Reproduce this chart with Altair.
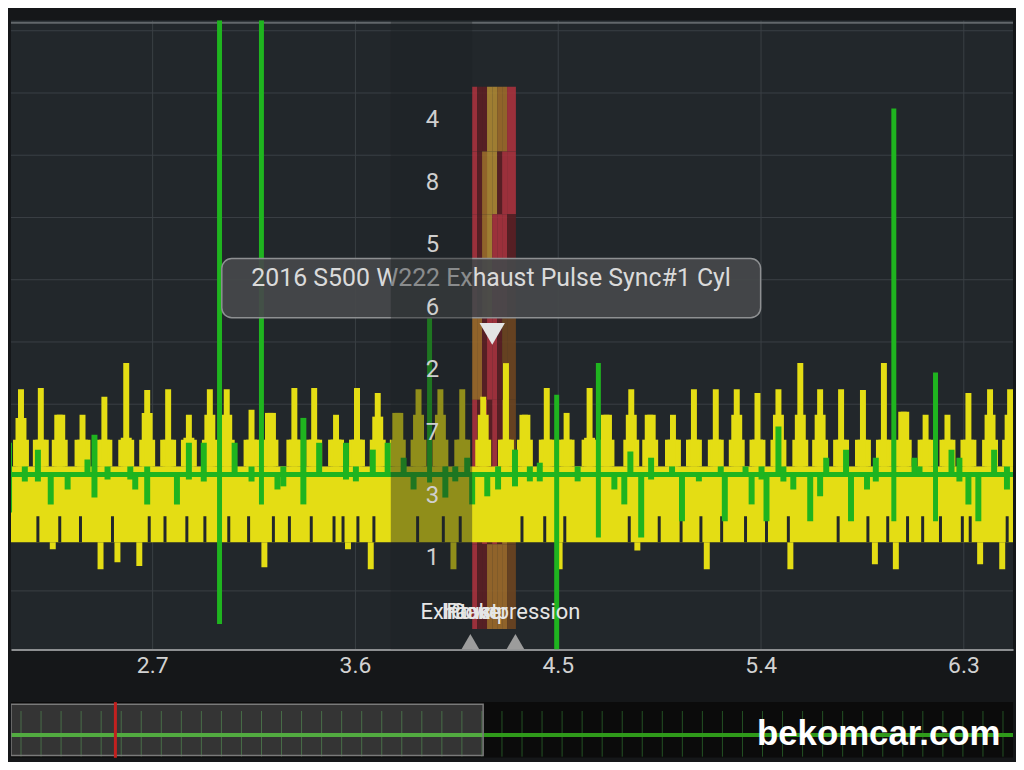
import altair as alt
import pandas as pd

# ---------------- main scope: time (s) vs. signal (div) ----------------
X_TICKS = [2.7, 3.6, 4.5, 5.4, 6.3]
Y_GRID = [0, 1, 2, 3, 4, 5, 6, 7, 8, 9]
X_DOMAIN = [2.0736, 6.5199]
Y_DOMAIN = [-0.94, 9.17]
TOP_FRAME = [9.13]

# yellow trace: continuous band + stepped pulses
YELLOW_BAND = [2.0736, 6.5199]
YELLOW_LOW = 0.78
YELLOW_HIGH = 2.00
YELLOW_STEP = 2.43
YELLOW_T = [2.118, 2.206, 2.290, 2.391, 2.488, 2.585, 2.678, 2.771, 2.863, 2.956,
            3.031, 3.141, 3.225, 3.331, 3.419, 3.516, 3.609, 3.701, 3.790, 3.882,
            3.979, 4.076, 4.169, 4.270, 4.354, 4.451, 4.539, 4.641, 4.716, 4.826,
            4.910, 5.011, 5.104, 5.201, 5.294, 5.386, 5.479, 5.576, 5.664, 5.757,
            5.854, 5.947, 6.035, 6.132, 6.229, 6.322, 6.418, 6.507]
YELLOW_PEAK = [3.24, 3.26, 2.83, 2.83, 3.12, 3.66, 3.23, 3.24, 2.83, 3.24,
               3.24, 2.91, 2.86, 3.26, 3.26, 2.83, 3.26, 3.18, 2.86, 3.24,
               3.24, 3.24, 3.12, 3.66, 2.83, 3.26, 2.86, 3.26, 2.83, 3.24,
               2.83, 2.83, 3.24, 3.24, 3.24, 3.18, 3.24, 3.66, 3.24, 3.24,
               3.23, 3.66, 2.88, 2.83, 2.83, 3.18, 3.24, 3.24]
YELLOW_SHOULDER = [2.78, 2.43, 2.83, 2.43, 2.43, 2.46, 2.86, 2.43, 2.46, 2.83,
                   2.83, 2.43, 2.86, 2.43, 2.43, 2.43, 2.43, 2.80, 2.86, 2.83,
                   2.83, 2.43, 2.83, 2.43, 2.83, 2.43, 2.43, 2.46, 2.83, 2.83,
                   2.83, 2.43, 2.43, 2.43, 2.83, 2.43, 2.83, 2.83, 2.83, 2.43,
                   2.43, 2.43, 2.88, 2.43, 2.43, 2.43, 2.83, 2.83]
DIP_T = [2.259, 2.471, 2.546, 2.643, 3.198, 3.569, 3.670, 4.037, 4.508, 4.853,
         5.161, 5.532, 5.907, 6.000, 6.374, 6.472]
DIP_V = [0.67, 0.35, 0.46, 0.40, 0.38, 0.67, 0.35, 0.35, 0.35, 0.65,
         0.35, 0.35, 0.43, 0.35, 0.43, 0.35]
NOTCH_T = [2.193, 2.290, 2.382, 2.524, 2.687, 2.757, 2.854, 2.934, 3.040, 3.128,
           3.238, 3.309, 3.406, 3.507, 3.547, 3.613, 3.684, 3.878, 3.992, 4.067,
           4.341, 4.442, 4.531, 4.817, 4.950, 5.047, 5.135, 5.227, 5.333, 5.426,
           5.523, 5.744, 5.876, 5.964, 6.052, 6.119, 6.198, 6.295, 6.330, 6.494]
NOTCH_TOP = 1.2

# green trace
GREEN_CENTER = [1.87]
GREEN_T = [2.065, 2.135, 2.193, 2.250, 2.325, 2.413, 2.444, 2.502, 2.603, 2.625,
           2.678, 2.810, 2.863, 2.929, 3.066, 3.141, 3.256, 3.282, 3.371, 3.441,
           3.560, 3.604, 3.679, 3.745, 3.816, 3.860, 4.001, 4.045, 4.098, 4.120,
           4.187, 4.235, 4.310, 4.376, 4.420, 4.588, 4.751, 4.795, 4.822, 4.870,
           4.914, 5.007, 5.051, 5.126, 5.223, 5.241, 5.333, 5.360, 5.404, 5.426,
           5.479, 5.501, 5.545, 5.620, 5.664, 5.691, 5.779, 5.801, 5.872, 5.911,
           6.083, 6.105, 6.247, 6.282, 6.322, 6.366, 6.436, 6.493]
GREEN_HI = [2.38, 2.00, 2.27, 1.87, 1.87, 2.11, 2.51, 2.00, 2.00, 1.87,
            2.00, 1.87, 2.38, 2.38, 2.38, 2.00, 1.87, 2.00, 2.78, 2.38,
            2.38, 2.00, 2.27, 2.38, 2.14, 1.87, 2.00, 2.00, 2.14, 1.87,
            1.87, 2.00, 2.27, 2.00, 2.06, 2.00, 1.87, 1.87, 2.24, 1.87,
            2.14, 2.00, 1.87, 1.87, 2.00, 1.87, 2.00, 1.87, 2.00, 1.87,
            2.64, 2.00, 1.87, 1.87, 1.87, 2.14, 2.27, 1.87, 1.87, 2.14,
            2.14, 2.00, 2.27, 2.14, 1.87, 1.87, 2.27, 2.00]
GREEN_LO = [1.26, 1.76, 1.76, 1.39, 1.63, 1.90, 1.50, 1.79, 1.79, 1.63,
            1.39, 1.39, 1.79, 1.76, 1.90, 1.76, 1.63, 1.68, 1.39, 1.90,
            1.79, 1.76, 1.87, 1.87, 1.90, 1.63, 1.50, 1.76, 1.87, 1.39,
            1.52, 1.63, 1.68, 1.76, 1.76, 1.76, 1.63, 1.39, 1.90, 0.86,
            1.79, 1.87, 1.12, 1.76, 1.87, 1.12, 1.87, 1.39, 1.79, 1.12,
            1.87, 1.76, 1.63, 1.12, 1.52, 1.87, 1.87, 1.12, 1.63, 1.76,
            1.90, 1.87, 1.90, 1.76, 1.39, 1.12, 1.87, 1.63]
BIG_T = [2.999, 3.185, 3.931, 4.495, 4.680, 5.991, 6.176, 6.546]
BIG_HI = [9.17, 9.17, 4.38, 3.15, 3.66, 7.75, 3.51, 2.78]
BIG_LO = [-0.53, 1.39, 1.74, -0.94, 0.86, 1.12, 1.12, 1.18]

# cylinder-phase stripe
STRIPE_COLS = [4.120, 4.142, 4.164, 4.186, 4.209, 4.231, 4.253, 4.275, 4.314]
STRIPE_ROWS = [8.10, 7.06, 6.05, 4.39, 3.07, 0.75, -0.61]
STRIPE_CODES = ["RDDTTOOR", "RDOTTDRR", "RDOTRRRD", "OODRRDBB", "RDRDRDOB", "RDDOOOOB"]
STRIPE_KEYS = ["R", "D", "O", "T", "B"]
STRIPE_COLORS = ["#a8323d", "#5c1f24", "#9c6a2a", "#ad8733", "#6d4520"]

# overlays / annotations
SHADE = [3.759, 4.120]
TIP_BOX = {"t0": 3.009, "t1": 5.400, "v0": 4.39, "v1": 5.34}
TIP_TEXT = "2016 S500 W222 Exhaust Pulse Sync#1 Cyl"
TIP_POS = [4.204, 5.02]
MARKER_POS = [4.209, 4.13]
CH_LABELS = ["4", "8", "5", "6", "2", "7", "3", "1"]
CH_T = 3.944
CH_V = [7.56, 6.56, 5.56, 4.55, 3.55, 2.54, 1.53, 0.53]
PHASE_LEFT_LABELS = ["Exhaust", "Intake", "Power"]
PHASE_LEFT_T = [3.891, 3.985, 4.005]
PHASE_RIGHT_LABELS = ["Compression"]
PHASE_RIGHT_T = [4.600]
PHASE_V = -0.34
PHASE_MARK_T = [4.112, 4.312]

# ---------------- overview strip ----------------
OV_DOMAIN = [0, 10]
OV_TICKS = [0.1, 0.3, 0.5, 0.7, 0.9, 1.1, 1.3, 1.5, 1.7, 1.9,
            2.1, 2.3, 2.5, 2.7, 2.9, 3.1, 3.3, 3.5, 3.7, 3.9,
            4.1, 4.3, 4.5, 4.7, 4.9, 5.1, 5.3, 5.5, 5.7, 5.9,
            6.1, 6.3, 6.5, 6.7, 6.9, 7.1, 7.3, 7.5, 7.7, 7.9,
            8.1, 8.3, 8.5, 8.7, 8.9, 9.1, 9.3, 9.5, 9.7, 9.9]
OV_LINE = [0.41]
OV_WINDOW = [0.0, 4.712]
OV_CURSOR = [1.042]
WATERMARK = "bekomcar.com"
WATERMARK_POS = [8.66, 0.43]

# ======================================================================
W = 1008
xs = alt.Scale(domain=X_DOMAIN, nice=False, zero=False)
ys = alt.Scale(domain=Y_DOMAIN, nice=False, zero=False)
xaxis = alt.Axis(values=X_TICKS, format=".1f", title=None, grid=True,
                 gridColor="#3a4045", gridWidth=1, ticks=False, domain=True,
                 domainColor="#8d8f91", domainWidth=2, labelColor="#d2d2d2",
                 labelFont="Roboto", labelFontSize=23, labelPadding=5,
                 labelFlush=False)


def X(f):
    return alt.X(f"{f}:Q", scale=xs, axis=xaxis)


def Y(f):
    return alt.Y(f"{f}:Q", scale=ys, axis=None)


YELLOW = "#e4dd14"
GREEN = "#1fb41f"
BG = "#22272b"

grid_df = pd.DataFrame({"v": Y_GRID})
frame_df = pd.DataFrame({"v": TOP_FRAME})
stripe_rows = []
for r, code in enumerate(STRIPE_CODES):
    for c, k in enumerate(code):
        stripe_rows.append({"t0": STRIPE_COLS[c], "t1": STRIPE_COLS[c + 1],
                            "v0": STRIPE_ROWS[r + 1], "v1": STRIPE_ROWS[r], "k": k})
stripe_df = pd.DataFrame(stripe_rows)
band_df = pd.DataFrame({"t0": [YELLOW_BAND[0]], "t1": [YELLOW_BAND[1]],
                        "lo": [YELLOW_LOW], "hi": [YELLOW_HIGH]})
ydf = pd.DataFrame({"t": YELLOW_T, "peak": YELLOW_PEAK, "sh": YELLOW_SHOULDER,
                    "step": [YELLOW_STEP] * len(YELLOW_T),
                    "base": [YELLOW_HIGH] * len(YELLOW_T)})
dip_df = pd.DataFrame({"t": DIP_T, "v": DIP_V, "base": [YELLOW_LOW] * len(DIP_T)})
notch_df = pd.DataFrame({"t": NOTCH_T, "lo": [YELLOW_LOW] * len(NOTCH_T),
                         "hi": [NOTCH_TOP] * len(NOTCH_T)})
gc_df = pd.DataFrame({"v": GREEN_CENTER})
g_df = pd.DataFrame({"t": GREEN_T, "hi": GREEN_HI, "lo": GREEN_LO})
big_df = pd.DataFrame({"t": BIG_T, "hi": BIG_HI, "lo": BIG_LO})
box_df = pd.DataFrame([TIP_BOX])
tip_df = pd.DataFrame({"t": [TIP_POS[0]], "v": [TIP_POS[1]], "s": [TIP_TEXT]})
shade_df = pd.DataFrame({"t0": [SHADE[0]], "t1": [SHADE[1]],
                         "v0": [Y_DOMAIN[0]], "v1": [Y_DOMAIN[1]]})
ch_df = pd.DataFrame({"t": [CH_T] * len(CH_LABELS), "v": CH_V, "s": CH_LABELS})
marker_df = pd.DataFrame({"t": [MARKER_POS[0]], "v": [MARKER_POS[1]]})
phl_df = pd.DataFrame({"t": PHASE_LEFT_T, "v": [PHASE_V] * len(PHASE_LEFT_T),
                       "s": PHASE_LEFT_LABELS})
phr_df = pd.DataFrame({"t": PHASE_RIGHT_T, "v": [PHASE_V] * len(PHASE_RIGHT_T),
                       "s": PHASE_RIGHT_LABELS})
pmark_df = pd.DataFrame({"t": PHASE_MARK_T, "v": [Y_DOMAIN[0]] * len(PHASE_MARK_T)})

layers = [
    alt.Chart(grid_df).mark_rule(color="#3a4045", strokeWidth=1).encode(y=Y("v")),
    alt.Chart(frame_df).mark_rule(color="#62676b", strokeWidth=2).encode(y=Y("v")),
    alt.Chart(stripe_df).mark_rect(opacity=0.9, clip=True).encode(
        x=X("t0"), x2="t1", y=Y("v0"), y2="v1",
        color=alt.Color("k:N", scale=alt.Scale(domain=STRIPE_KEYS, range=STRIPE_COLORS),
                        legend=None)),
    alt.Chart(band_df).mark_rect(color=YELLOW, clip=True).encode(
        x=X("t0"), x2="t1", y=Y("lo"), y2="hi"),
    alt.Chart(ydf).mark_rule(color=YELLOW, strokeWidth=16, clip=True).encode(
        x=X("t"), y=Y("step"), y2="base"),
    alt.Chart(ydf).mark_rule(color=YELLOW, strokeWidth=11, clip=True).encode(
        x=X("t"), y=Y("sh"), y2="base"),
    alt.Chart(ydf).mark_rule(color=YELLOW, strokeWidth=6, clip=True).encode(
        x=X("t"), y=Y("peak"), y2="base"),
    alt.Chart(dip_df).mark_rule(color=YELLOW, strokeWidth=6, clip=True).encode(
        x=X("t"), y=Y("v"), y2="base"),
    alt.Chart(notch_df).mark_rule(color=BG, strokeWidth=3, clip=True).encode(
        x=X("t"), y=Y("lo"), y2="hi"),
    alt.Chart(gc_df).mark_rule(color=GREEN, strokeWidth=5).encode(y=Y("v")),
    alt.Chart(g_df).mark_rule(color=GREEN, strokeWidth=6, clip=True).encode(
        x=X("t"), y=Y("hi"), y2="lo"),
    alt.Chart(big_df).mark_rule(color=GREEN, strokeWidth=5, clip=True).encode(
        x=X("t"), y=Y("hi"), y2="lo"),
    alt.Chart(box_df).mark_rect(fill="#46484a", fillOpacity=0.93, stroke="#8e9092",
                                strokeWidth=1.5, cornerRadius=10, clip=True).encode(
        x=X("t0"), x2="t1", y=Y("v0"), y2="v1"),
    alt.Chart(tip_df).mark_text(font="Roboto", fontSize=25, color="#dadada",
                                align="center", baseline="middle").encode(
        x=X("t"), y=Y("v"), text="s:N"),
    alt.Chart(shade_df).mark_rect(color="#1d2124", opacity=0.42, clip=True).encode(
        x=X("t0"), x2="t1", y=Y("v0"), y2="v1"),
    alt.Chart(ch_df).mark_text(font="Roboto", fontSize=24, color="#cfcfcf",
                               align="center", baseline="middle").encode(
        x=X("t"), y=Y("v"), text="s:N"),
    alt.Chart(marker_df).mark_point(shape="triangle-down", filled=True, size=650,
                                    color="#e4e4e4", opacity=1, clip=True).encode(
        x=X("t"), y=Y("v")),
    alt.Chart(phl_df).mark_text(font="Roboto", fontSize=22, color="#e6e6e6",
                                align="left", baseline="middle").encode(
        x=X("t"), y=Y("v"), text="s:N"),
    alt.Chart(phr_df).mark_text(font="Roboto", fontSize=22, color="#e6e6e6",
                                align="right", baseline="middle").encode(
        x=X("t"), y=Y("v"), text="s:N"),
    alt.Chart(pmark_df).mark_point(shape="triangle-up", filled=True, size=1300,
                                   color="#9c9c9c", opacity=1, clip=True).encode(
        x=X("t"), y=Y("v")),
]

main = alt.layer(*layers).properties(width=W, height=633)

# overview ----------------------------------------------------------------
oxs = alt.Scale(domain=OV_DOMAIN, nice=False, zero=False)
oys = alt.Scale(domain=[0, 1], nice=False, zero=False)


def OX(f):
    return alt.X(f"{f}:Q", scale=oxs, axis=None)


def OY(f):
    return alt.Y(f"{f}:Q", scale=oys, axis=None)


ovbg_df = pd.DataFrame({"a": [OV_DOMAIN[0]], "b": [OV_DOMAIN[1]], "c": [0], "d": [1]})
ovt_df = pd.DataFrame({"a": OV_TICKS, "c": [0.02] * len(OV_TICKS), "d": [0.84] * len(OV_TICKS)})
ovl_df = pd.DataFrame({"c": OV_LINE})
ovw_df = pd.DataFrame({"a": [OV_WINDOW[0]], "b": [OV_WINDOW[1]], "c": [0.04], "d": [0.96]})
ovc_df = pd.DataFrame({"a": OV_CURSOR, "c": [0], "d": [1]})
wm_df = pd.DataFrame({"a": [WATERMARK_POS[0]], "c": [WATERMARK_POS[1]], "s": [WATERMARK]})

overview = alt.layer(
    alt.Chart(ovbg_df).mark_rect(color="#0b0b0b").encode(x=OX("a"), x2="b", y=OY("c"), y2="d"),
    alt.Chart(ovt_df).mark_rule(color="#245224", strokeWidth=1).encode(x=OX("a"), y=OY("c"), y2="d"),
    alt.Chart(ovl_df).mark_rule(color="#2f9a1a", strokeWidth=4).encode(y=OY("c")),
    alt.Chart(ovw_df).mark_rect(fill="#ffffff", fillOpacity=0.17, stroke="#7a7a7a",
                                strokeWidth=1.5, clip=True).encode(
        x=OX("a"), x2="b", y=OY("c"), y2="d"),
    alt.Chart(ovc_df).mark_rule(color="#c3201f", strokeWidth=3).encode(x=OX("a"), y=OY("c"), y2="d"),
    alt.Chart(wm_df).mark_text(font="Liberation Sans", fontWeight="bold", fontSize=35,
                               color="#ffffff", align="center", baseline="middle").encode(
        x=OX("a"), y=OY("c"), text="s:N"),
).properties(width=W, height=56)

chart = alt.vconcat(main, overview, spacing=23).resolve_scale(
    x="independent", y="independent", color="independent"
).properties(
    padding={"left": 0, "right": 0, "top": 10, "bottom": 0},
    background="#151719",
).configure_view(strokeWidth=0, fill=BG)

chart.save("out.html", embed_options={"renderer": "svg", "actions": False})
